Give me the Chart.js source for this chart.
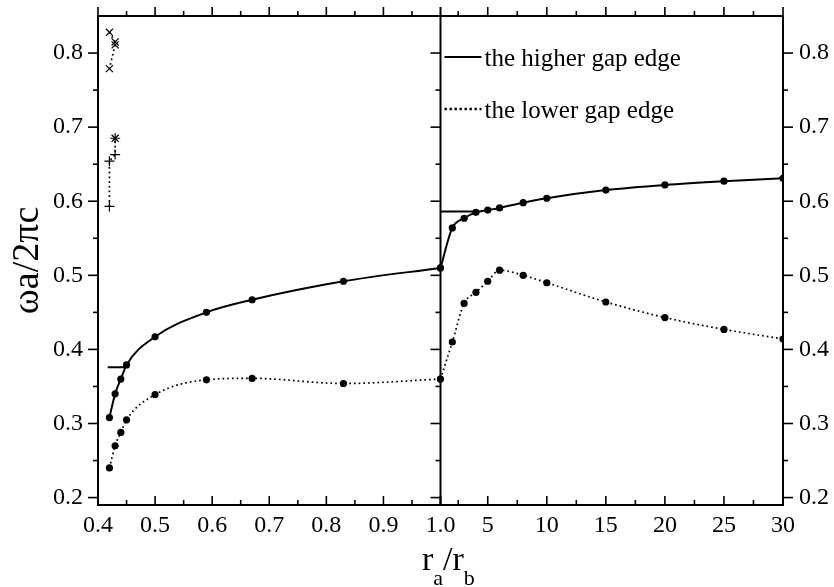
<!DOCTYPE html>
<html>
<head>
<meta charset="utf-8">
<script src="https://cdn.jsdelivr.net/npm/chart.js@4.4.1/dist/chart.umd.min.js"></script>
<style>
  html, body { margin: 0; padding: 0; background: #fff; }
  #wrap { width: 834px; height: 587px; }
</style>
</head>
<body>
<div id="wrap"><canvas id="chart" width="834" height="587"></canvas></div>
<script>
// left panel (r_a/r_b from 0.4 to 1.0)
const leftX = [0.42, 0.43, 0.44, 0.45, 0.5, 0.59, 0.67, 0.83, 1.0];
const leftUpper = [0.308, 0.340, 0.360, 0.379, 0.417, 0.450, 0.467, 0.492, 0.510];
const leftLower = [0.240, 0.270, 0.288, 0.305, 0.339, 0.359, 0.361, 0.354, 0.360];

// right panel (r_a/r_b from 1 to 30)
const rightX = [1, 2, 3, 4, 5, 6, 8, 10, 15, 20, 25, 30];
const rightUpper = [0.510, 0.564, 0.577, 0.585, 0.588, 0.591, 0.598, 0.604, 0.615, 0.622, 0.627, 0.631];
const rightLower = [0.360, 0.410, 0.462, 0.477, 0.492, 0.507, 0.500, 0.490, 0.464, 0.443, 0.427, 0.414];

// short horizontal marks
const barLeftX = [0.417, 0.446];
const barLeftY = [0.376, 0.376];
const barRightX = [1.0, 4.0];
const barRightY = [0.586, 0.586];

// small symbols in the top left corner
const crossX = [0.42, 0.43, 0.43, 0.42];
const crossY = [0.828, 0.815, 0.811, 0.779];
const plusX = [0.42, 0.42, 0.43, 0.43];
const plusY = [0.593, 0.654, 0.663, 0.685];

// ticks
const leftTicks = [0.4, 0.5, 0.6, 0.7, 0.8, 0.9, 1.0];
const leftMinor = [0.45, 0.55, 0.65, 0.75, 0.85, 0.95];
const rightTicks = [1, 5, 10, 15, 20, 25, 30];
const rightMinor = [2.5, 7.5, 12.5, 17.5, 22.5, 27.5];
const yTicks = [0.2, 0.3, 0.4, 0.5, 0.6, 0.7, 0.8];
const yMinor = [0.25, 0.35, 0.45, 0.55, 0.65, 0.75];

const FONT = "'Liberation Serif', 'Times New Roman', serif";

const pts = (xs, ys) => xs.map((x, i) => ({ x: x, y: ys[i] }));

function curve(xs, ys, axis, dotted, label) {
    return {
        label: label,
        inLegend: !!label,
        data: pts(xs, ys),
        xAxisID: axis,
        yAxisID: 'y',
        showLine: true,
        borderColor: '#000',
        backgroundColor: '#000',
        borderWidth: dotted ? 1.7 : 2,
        borderDash: dotted ? [1.7, 3] : [],
        cubicInterpolationMode: 'monotone',
        pointRadius: 3.6,
        pointBorderWidth: 0,
        pointBackgroundColor: '#000'
    };
}

const marker = style => ({
    pointStyle: style, pointRadius: 5, pointBorderWidth: 1.2, pointBorderColor: '#000', cubicInterpolationMode: 'default'
});

// frame, middle divider and tick marks (major/minor)
const frameTicks = {
    id: 'frameTicks',
    afterDatasetsDraw(chart) {
        const { ctx, chartArea: a, scales } = chart;
        const xl = scales.xl, xr = scales.xr, y = scales.y;
        const seg = (x1, y1, x2, y2) => { ctx.beginPath(); ctx.moveTo(x1, y1); ctx.lineTo(x2, y2); ctx.stroke(); };
        ctx.save();
        ctx.strokeStyle = '#000';
        ctx.lineWidth = 2;
        ctx.strokeRect(a.left, a.top, a.right - a.left, a.bottom - a.top);
        seg(xl.right, a.top, xl.right, a.bottom);

        ctx.lineWidth = 1.6;
        const yT = (vals, len) => vals.forEach(v => {
            const p = y.getPixelForValue(v);
            seg(a.left - len, p, a.left, p);
            seg(a.right, p, a.right + len, p);
            seg(xl.right - len, p, xl.right, p);
        });
        yT(yTicks, 10);
        yT(yMinor, 5);

        const xT = (scale, vals, len) => vals.forEach(v => {
            const p = scale.getPixelForValue(v);
            seg(p, a.bottom, p, a.bottom - len);
            seg(p, a.top, p, a.top - len);
        });
        xT(xl, leftTicks, 9);
        xT(xl, leftMinor, 5);
        xT(xr, rightTicks, 9);
        xT(xr, rightMinor, 5);
        ctx.restore();
    }
};

// legend inside the right panel
const innerLegend = {
    id: 'innerLegend',
    afterDraw(chart) {
        const { ctx, chartArea: a, scales } = chart;
        const x0 = scales.xr.left + 4;
        const rows = [a.top + 41, a.top + 93];
        ctx.save();
        ctx.font = '25px ' + FONT;
        ctx.fillStyle = '#000';
        ctx.textBaseline = 'middle';
        let r = 0;
        chart.data.datasets.forEach(ds => {
            if (!ds.inLegend) return;
            const yy = rows[r++];
            ctx.strokeStyle = ds.borderColor;
            ctx.lineWidth = ds.borderDash.length ? 2.4 : ds.borderWidth;
            ctx.setLineDash(ds.borderDash.length ? [2.4, 2.6] : []);
            ctx.beginPath();
            ctx.moveTo(x0, yy);
            ctx.lineTo(x0 + 37, yy);
            ctx.stroke();
            ctx.setLineDash([]);
            ctx.fillText(ds.label, x0 + 40, yy + 2);
        });
        ctx.restore();
    }
};

// x-axis title with subscripts: r_a/r_b
const xTitle = {
    id: 'xTitle',
    afterDraw(chart) {
        const { ctx } = chart;
        const parts = [['r', 34, 0], ['a', 22, 15], ['/r', 34, 0], ['b', 22, 15]];
        ctx.save();
        ctx.fillStyle = '#000';
        ctx.textBaseline = 'alphabetic';
        let x = 422;
        const base = 570;
        parts.forEach(([t, size, dy]) => {
            ctx.font = size + 'px ' + FONT;
            ctx.fillText(t, x, base + dy);
            x += ctx.measureText(t).width;
        });
        ctx.restore();
    }
};

const noPadY = s => { s.paddingTop = 0; s.paddingBottom = 0; };
const noPadX = s => { s.paddingLeft = 0; s.paddingRight = 0; };

const yCommon = {
    type: 'linear',
    min: 0.19,
    max: 0.85,
    grid: { display: false, drawTicks: false },
    border: { display: false },
    afterBuildTicks: s => { s.ticks = yTicks.map(v => ({ value: v })); },
    ticks: {
        color: '#000',
        font: { family: FONT, size: 24 },
        callback: v => v.toFixed(1)
    }
};

const clipRight = { left: false, top: false, right: 0, bottom: false };

new Chart(document.getElementById('chart'), {
    type: 'scatter',
    data: {
        datasets: [
            Object.assign(curve(rightX, rightUpper, 'xr', false, 'the higher gap edge'), { clip: clipRight }),
            Object.assign(curve(rightX, rightLower, 'xr', true, 'the lower gap edge'), { clip: clipRight }),
            curve(leftX, leftUpper, 'xl', false),
            curve(leftX, leftLower, 'xl', true),
            Object.assign(curve(barLeftX, barLeftY, 'xl', false), { pointRadius: 0, cubicInterpolationMode: 'default' }),
            Object.assign(curve(barRightX, barRightY, 'xr', false), { pointRadius: 0, cubicInterpolationMode: 'default' }),
            Object.assign(curve(crossX, crossY, 'xl', true), marker('crossRot')),
            Object.assign(curve(plusX, plusY, 'xl', true), marker('cross')),
            Object.assign(curve([plusX[3]], [plusY[3]], 'xl', false), marker('crossRot'), { showLine: false })
        ]
    },
    options: {
        responsive: false,
        animation: false,
        layout: { padding: { top: 16, left: 0, right: 0, bottom: 0 } },
        plugins: { legend: { display: false }, tooltip: { enabled: false } },
        scales: {
            xl: {
                type: 'linear', position: 'bottom', stack: 'x', stackWeight: 1,
                min: 0.4, max: 1.0,
                grid: { display: false, drawTicks: false },
                border: { display: false },
                afterBuildTicks: s => { s.ticks = leftTicks.map(v => ({ value: v })); },
                afterFit: s => { s.height = 82; noPadX(s); },
                ticks: {
                    color: '#000', autoSkip: false, maxRotation: 0, padding: 6,
                    font: { family: FONT, size: 24 },
                    callback: v => v.toFixed(1)
                }
            },
            xr: {
                type: 'linear', position: 'bottom', stack: 'x', stackWeight: 1,
                min: 1, max: 30,
                grid: { display: false, drawTicks: false },
                border: { display: false },
                afterBuildTicks: s => { s.ticks = rightTicks.map(v => ({ value: v })); },
                afterFit: s => { s.height = 82; noPadX(s); },
                ticks: {
                    color: '#000', autoSkip: false, maxRotation: 0, padding: 6,
                    font: { family: FONT, size: 24 },
                    callback: v => (v === 1 ? '' : String(v))
                }
            },
            y: Object.assign({}, yCommon, {
                position: 'left',
                afterFit: s => { s.width = 98; noPadY(s); },
                ticks: Object.assign({}, yCommon.ticks, { padding: 15 }),
                title: {
                    display: true, text: 'ωa/2πc', color: '#000',
                    font: { family: FONT, size: 38 }, padding: { top: 5, bottom: 0 }
                }
            }),
            y2: Object.assign({}, yCommon, {
                position: 'right',
                afterFit: s => { s.width = 51; noPadY(s); },
                ticks: Object.assign({}, yCommon.ticks, { padding: 16 })
            })
        }
    },
    plugins: [frameTicks, innerLegend, xTitle]
});
</script>
</body>
</html>
